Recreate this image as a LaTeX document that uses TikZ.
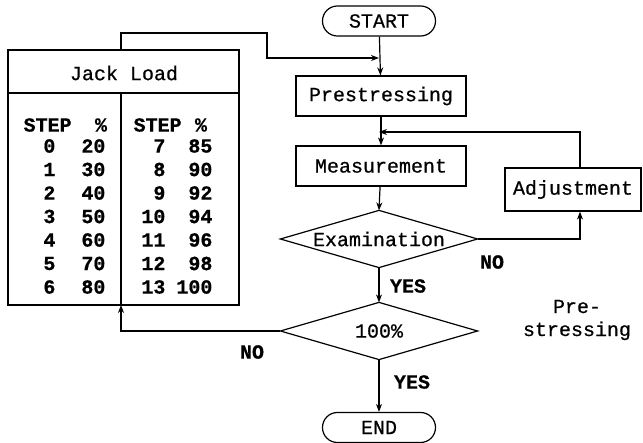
\documentclass[tikz,border=0pt]{standalone}
\usepackage{fontspec}
\setmainfont{Liberation Mono}[FakeBold=0.6]
\usetikzlibrary{arrows.meta}
\begin{document}
\begin{tikzpicture}[x=1pt,y=-1pt, line width=1.2pt,
  every node/.style={font=\fontsize{20}{23}\selectfont},
  term/.style={draw, rounded corners=14.9pt, minimum width=113pt, minimum height=30pt, inner sep=0pt},
  proc/.style={draw, minimum width=170pt, minimum height=40pt, inner sep=0pt},
  dec/.style={minimum width=196pt, minimum height=56pt, inner sep=0pt},
  lbl/.style={font=\fontsize{20}{23}\selectfont\bfseries},
  cell/.style={font=\fontsize{20}{23}\selectfont\bfseries, inner sep=0pt},
  arr/.style={-{Stealth[length=8pt,width=6pt]}}
]
\useasboundingbox (0,0) rectangle (643,443);

% flowchart
\node[term] (start) at (379,21) {START};
\node[proc] (pre) at (381,96) {Prestressing};
\node[proc] (meas) at (381,166) {Measurement};
\node[draw, minimum width=136pt, minimum height=43pt, inner sep=0pt] (adj) at (573,189.5) {Adjustment};
\node[dec] (exam) at (379,239) {Examination};
\node[dec] (hund) at (379,331) {100\%};
\draw (exam.west) -- (exam.north) -- (exam.east) -- (exam.south) -- cycle;
\draw (hund.west) -- (hund.north) -- (hund.east) -- (hund.south) -- cycle;
\node[term] (end) at (379,427.5) {END};

% table
\node[draw, minimum width=231pt, minimum height=255pt, inner sep=0pt] (tbl) at (123.5,177.5) {};
\node (hdr) at (124,73) {Jack Load};
\coordinate (hl) at (8,93);
\coordinate (hr) at (239,93);
\coordinate (dt) at (121,93);
\coordinate (tb) at (121,305);
\coordinate (tt) at (121,50);
\draw (hl) -- (hr);
\draw (dt) -- (tb);

\node[cell, anchor=west] (lh1) at (23,125) {STEP};
\node[cell] (lh2) at (101,125) {\%};
\node[cell, anchor=west] (rh1) at (133,125) {STEP};
\node[cell] (rh2) at (201,125) {\%};
\foreach \s/\p [count=\i from 0] in {0/20,1/30,2/40,3/50,4/60,5/70,6/80} {
  \node[cell, anchor=east] (ls\i) at (56,{146+23.5*\i}) {\s};
  \node[cell, anchor=east] (lp\i) at (106,{146+23.5*\i}) {\p};
}
\foreach \s/\p [count=\i from 0] in {7/85,8/90,9/92,10/94,11/96,12/98,13/100} {
  \node[cell, anchor=east] (rs\i) at (166,{146+23.5*\i}) {\s};
  \node[cell, anchor=east] (rp\i) at (213,{146+23.5*\i}) {\p};
}

% labels
\node[lbl] (no1) at (492,262) {NO};
\node[lbl] (yes1) at (408,286) {YES};
\node[lbl] (no2) at (252,352) {NO};
\node[lbl] (yes2) at (412,382) {YES};
\node[align=center] (pst) at (577,320) {Pre-\\stressing};

% connectors
\coordinate (j1) at (379,58);
\coordinate (j2) at (379,132);
\draw[arr] (start) -- (pre);
\draw[arr] (pre) -- (meas);
\draw[arr] (meas) -- (exam.north);
\draw[arr] (exam.south) -- (hund.north);
\draw[arr] (hund.south) -- (end);
\draw[arr] (exam.east) -| ([xshift=7pt]adj.south);
\draw[arr] ([xshift=7pt]adj.north) |- (j2);
\draw[arr] (hund.west) -| (tb);
\draw[arr] (tt) -- (121,33) -- (267,33) -- (267,58) -- (j1);
\end{tikzpicture}
\end{document}
